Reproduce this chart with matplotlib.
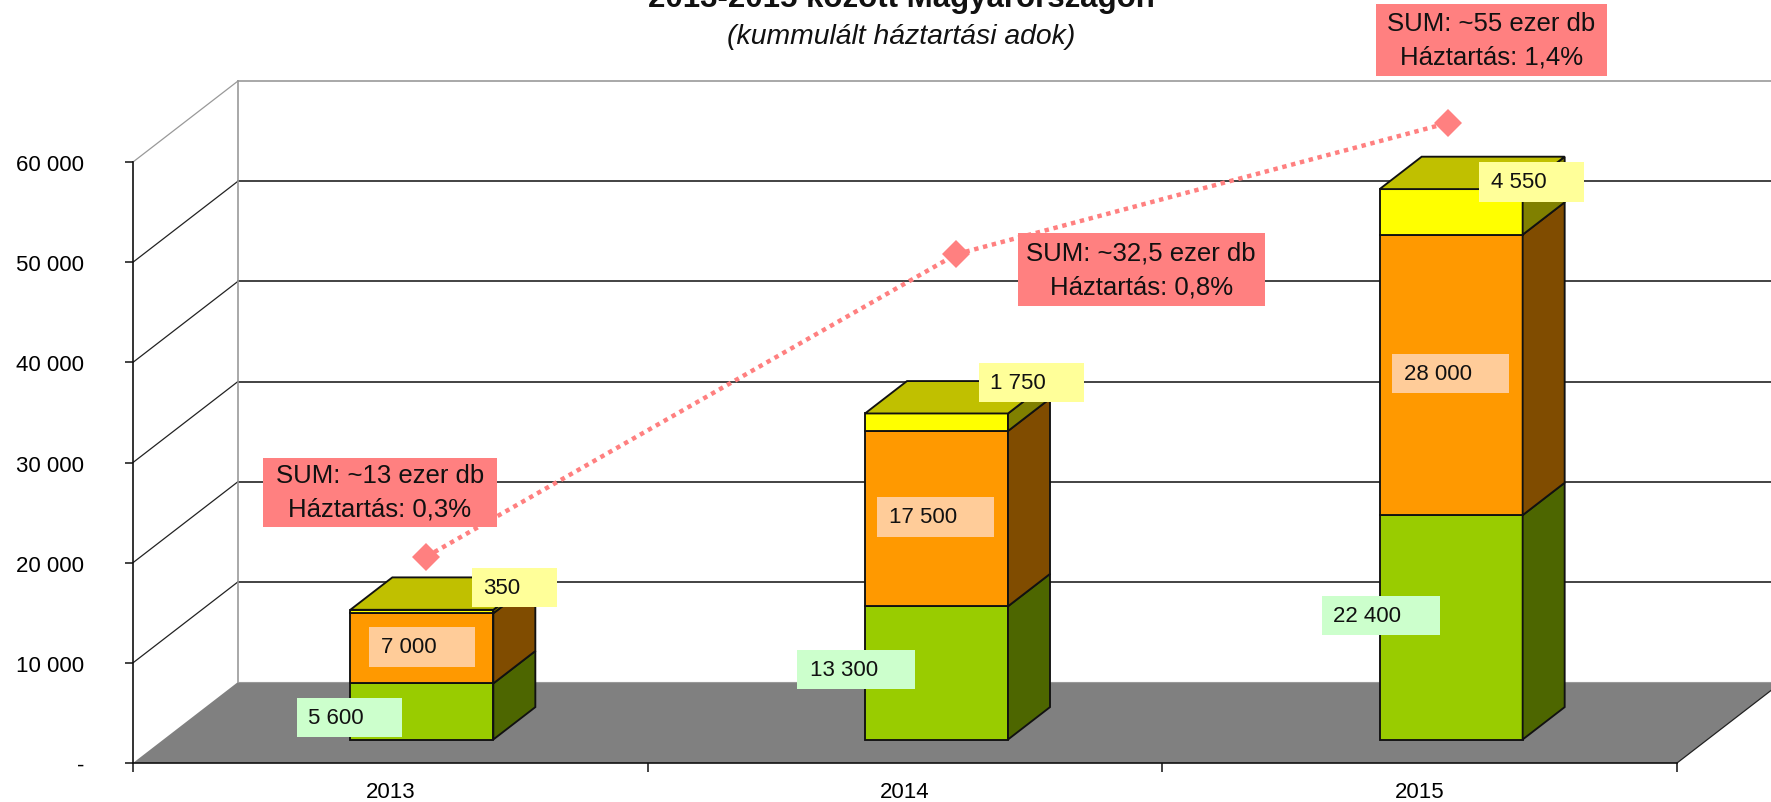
import matplotlib

matplotlib.use("Agg")
import matplotlib.pyplot as plt
from matplotlib.patches import Rectangle
from matplotlib.transforms import Affine2D
import numpy as np

plt.rcParams["font.family"] = ["Liberation Sans", "DejaVu Sans"]

years = ["2013", "2014", "2015"]
green_vals = [5600, 13300, 22400]
orange_vals = [7000, 17500, 28000]
yellow_vals = [350, 1750, 4550]
y_ticks = [0, 10000, 20000, 30000, 40000, 50000, 60000]
y_labels = ["-", "10 000", "20 000", "30 000", "40 000", "50 000", "60 000"]

# the overlay line is read against the front axis, it does not sit on the bar tops
sum_x = [0.57, 1.60, 2.555]
sum_y = [20600, 50800, 63900]
sum_text = [
    "SUM: ~13 ezer db\nHáztartás: 0,3%",
    "SUM: ~32,5 ezer db\nHáztartás: 0,8%",
    "SUM: ~55 ezer db\nHáztartás: 1,4%",
]

W, H = 1771, 803
LEFT, RIGHT, BOTTOM, TOP = 133, 1677, 764, 163
# depth of the fake 3d box in data units
DX = 105 / ((RIGHT - LEFT) / 3)
DY = 81 / ((BOTTOM - TOP) / 60000)
D1, D2 = 0.29, 0.69
D1_X = 0.30
BAR_W = 143 / ((RIGHT - LEFT) / 3)

fig = plt.figure(figsize=(W / 100, H / 100), dpi=100, facecolor="white")
ax = fig.add_axes([LEFT / W, 1 - BOTTOM / H, (RIGHT - LEFT) / W, (BOTTOM - TOP) / H])
ax.set_xlim(0, 3)
ax.set_ylim(0, 60000)
ax.patch.set_visible(False)
for side in ["top", "right"]:
    ax.spines[side].set_visible(False)
for side in ["left", "bottom"]:
    ax.spines[side].set_linewidth(1.2)
    ax.spines[side].set_color("#111111")
    ax.spines[side].set_zorder(5)

# floor
ax.fill([0, 3, 3 + DX, DX], [0, 0, DY, DY], color="#808080", lw=0, zorder=1, clip_on=False)
ax.plot([3, 3 + DX], [0, DY], color="#222222", lw=0.9, zorder=1.5, clip_on=False)

# walls
for v in y_ticks[1:]:
    c = "#999999" if v == 60000 else "#222222"
    ax.plot([DX, 3 + DX], [v + DY, v + DY], color=c, lw=1.2, zorder=1.2, clip_on=False)
    ax.plot([0, DX], [v, v + DY], color=c, lw=0.9, zorder=1.2, clip_on=False)
ax.plot([DX, DX], [DY, 60000 + DY], color="#999999", lw=1.2, zorder=1.2, clip_on=False)
ax.plot([DX, 3 + DX], [DY, DY], color="#999999", lw=0.8, zorder=1.2, clip_on=False)

# stacked boxes
centers = np.arange(3) + 0.5
stack = [
    (green_vals, "#99CC00", "#4D6600"),
    (orange_vals, "#FF9900", "#804C00"),
    (yellow_vals, "#FFFF00", "#808000"),
]
base = np.zeros(3)
for vals, front, side in stack:
    vals = np.array(vals, dtype=float)
    xl = centers + D1_X * DX - BAR_W / 2
    xr = xl + BAR_W
    y0 = base + D1 * DY
    ax.bar(xl, vals, width=BAR_W, bottom=y0, align="edge", color=front,
           edgecolor="#111111", linewidth=1.35, zorder=2, clip_on=False)
    sx = (D2 - D1) * DX
    sy = (D2 - D1) * DY
    for i in range(3):
        ax.fill([xr[i], xr[i] + sx, xr[i] + sx, xr[i]],
                [y0[i], y0[i] + sy, y0[i] + sy + vals[i], y0[i] + vals[i]],
                facecolor=side, edgecolor="#111111", linewidth=1.35, zorder=2, clip_on=False)
    base = base + vals

for i in range(3):
    xl = centers[i] + D1_X * DX - BAR_W / 2
    y1 = base[i] + D1 * DY
    sx = (D2 - D1) * DX
    sy = (D2 - D1) * DY
    ax.fill([xl, xl + BAR_W, xl + BAR_W + sx, xl + sx], [y1, y1, y1 + sy, y1 + sy],
            facecolor="#C0C000", edgecolor="#111111", linewidth=1.35, zorder=2, clip_on=False)

# sum line
ax.plot(sum_x, sum_y, color="#FF8080", lw=3.2, ls=(0, (1, 1.05)), zorder=3, clip_on=False)
ax.plot(sum_x, sum_y, "D", color="#FF8080", ms=14, mew=0, zorder=3, clip_on=False)

# ticks
ax.set_yticks(y_ticks)
ax.set_yticklabels(y_labels)
ax.tick_params(axis="y", length=6, width=1.1, pad=29, labelsize=16, color="#111111")
ax.set_xticks([0, 1, 2, 3])
ax.set_xticklabels([])
ax.set_xticks(centers, labels=years, minor=True)
ax.tick_params(axis="x", which="major", length=6.5, width=1.1, color="#111111")
ax.tick_params(axis="x", which="minor", length=0, pad=13, labelsize=16)

# everything below is placed in image pixels, y going down
px = Affine2D().scale(1, -1).translate(0, H)


def label_box(x0, x1, y0, y1, tx, text, color):
    fig.add_artist(Rectangle((x0, y0), x1 - x0, y1 - y0, transform=px, facecolor=color,
                             edgecolor="none", zorder=6))
    fig.text(tx, (y0 + y1) / 2, text, transform=px, fontsize=16, ha="left", va="center",
             color="#111111", zorder=7)


green_box = "#CCFFCC"
orange_box = "#FFCC99"
yellow_box = "#FFFF99"
label_box(297, 402, 699, 738, 308.5, "5 600", green_box)
label_box(369, 474.5, 628, 668, 381, "7 000", orange_box)
label_box(471.5, 557, 569, 608, 483, "350", yellow_box)
label_box(797, 915, 650.5, 690, 810, "13 300", green_box)
label_box(876.5, 994, 498, 537.5, 889, "17 500", orange_box)
label_box(979, 1084, 364, 403, 990.5, "1 750", yellow_box)
label_box(1322, 1440, 597, 636, 1333, "22 400", green_box)
label_box(1391.5, 1509, 355, 394, 1404, "28 000", orange_box)
label_box(1479, 1584, 163, 203, 1491, "4 550", yellow_box)

sum_boxes = [(263, 497, 458.5, 527.5), (1017.5, 1265, 234, 307), (1376, 1607, 5, 77)]
for (x0, x1, y0, y1), text in zip(sum_boxes, sum_text):
    fig.add_artist(Rectangle((x0, y0), x1 - x0, y1 - y0, transform=px, facecolor="#FF8080",
                             edgecolor="none", zorder=6))
    fig.text((x0 + x1) / 2, (y0 + y1) / 2, text, transform=px, fontsize=18.5, ha="center",
             va="center", linespacing=1.5, color="#111111", zorder=7)

fig.text(901, 7, "2013-2015 között Magyarországon", transform=px, fontsize=22.5,
         fontweight="bold", ha="center", va="baseline", color="#111111")
fig.text(901, 37.5, "(kummulált háztartási adok)", transform=px, fontsize=20.4, style="italic",
         ha="center", va="center", color="#111111")

fig.savefig("out.png", dpi=100)
